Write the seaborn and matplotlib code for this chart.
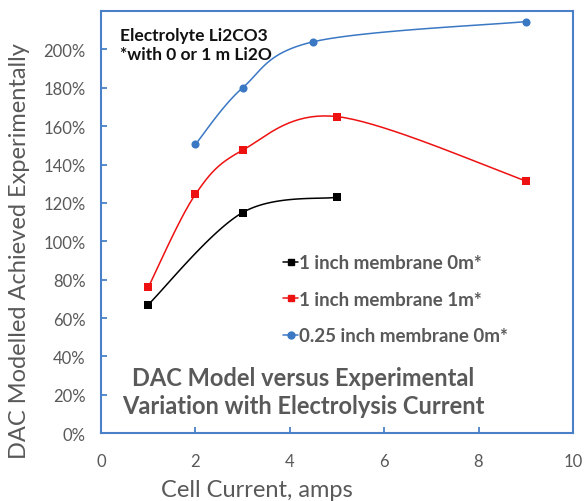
import numpy as np
import pandas as pd
import matplotlib
matplotlib.use("Agg")
import matplotlib.pyplot as plt
import seaborn as sns
from matplotlib.lines import Line2D

# Data
x_black = [1, 3, 5]
y_black = [0.67, 1.15, 1.23]
x_red = [1, 2, 3, 5, 9]
y_red = [0.76, 1.245, 1.475, 1.65, 1.315]
x_blue = [2, 3, 4.5, 9]
y_blue = [1.505, 1.80, 2.04, 2.145]
labels = ["1 inch membrane 0m*", "1 inch membrane 1m*", "0.25 inch membrane 0m*"]
colors = ["#000000", "#ee1111", "#3a78c4"]
markers = ["s", "s", "o"]
ytick_vals = [0.0, 0.2, 0.4, 0.6, 0.8, 1.0, 1.2, 1.4, 1.6, 1.8, 2.0, 2.2]
ytick_labels = ["0%", "20%", "40%", "60%", "80%", "100%", "120%", "140%", "160%", "180%", "200%", ""]
xtick_vals = [0, 2, 4, 6, 8, 10]

def smooth(xs, ys, n=40):
    # Catmull-Rom style Bezier smoothing (like spreadsheet smoothed lines)
    xs = np.asarray(xs, float); ys = np.asarray(ys, float)
    P = np.column_stack([xs, ys])
    out = []
    for i in range(len(P) - 1):
        p0 = P[i - 1] if i > 0 else P[i]
        p1 = P[i]; p2 = P[i + 1]
        p3 = P[i + 2] if i + 2 < len(P) else P[i + 1]
        c1 = p1 + (p2 - p0) / 6.0
        c2 = p2 - (p3 - p1) / 6.0
        t = np.linspace(0, 1, n)[:, None]
        seg = ((1 - t) ** 3) * p1 + 3 * ((1 - t) ** 2) * t * c1 + 3 * (1 - t) * t ** 2 * c2 + t ** 3 * p2
        out.append(seg if i == 0 else seg[1:])
    s = np.vstack(out)
    return s[:, 0], s[:, 1]

sns.set_style("white")
plt.rcParams['font.family'] = ['Lato', 'DejaVu Sans']

fig = plt.figure(figsize=(5.84, 5.02), dpi=100)
ax = fig.add_axes([0.173, 0.135, 0.808, 0.841])

series = [(x_black, y_black), (x_red, y_red), (x_blue, y_blue)]
handles = []
for (xs, ys), lab, col, mk in zip(series, labels, colors, markers):
    sx, sy = smooth(xs, ys)
    df_s = pd.DataFrame({"x": sx, "y": sy})
    sns.lineplot(data=df_s, x="x", y="y", ax=ax, color=col, lw=1.1, sort=False, estimator=None)
    df_p = pd.DataFrame({"x": xs, "y": ys})
    sns.scatterplot(data=df_p, x="x", y="y", ax=ax, color=col, marker=mk, s=30 if mk == "s" else 34,
                    edgecolor=col, linewidth=0, zorder=5)
    handles.append(Line2D([0], [0], color=col, lw=1.1, marker=mk, markersize=5, label=lab))

ax.set_xlim(0, 10)
ax.set_ylim(0, 2.2)
ax.set_xticks(xtick_vals)
ax.set_yticks(ytick_vals)
ax.set_yticklabels(ytick_labels)
grey = "#595959"
ax.tick_params(axis="both", direction="in", length=4, width=1.2, color="#3a78c4",
               labelsize=12, labelcolor=grey, left=True, bottom=True)
ax.tick_params(axis="y", pad=11)
ax.tick_params(axis="x", pad=14)
for sp in ax.spines.values():
    sp.set_color("#4a80c8")
    sp.set_linewidth(1.5)
ax.set_xlabel("Cell Current, amps", fontsize=17, color=grey)
ax.set_ylabel("DAC Modelled Achieved Experimentally", fontsize=17, color=grey)
ax.xaxis.set_label_coords(0.331, -0.108)
ax.yaxis.set_label_coords(-0.150, 0.434)

ax.text(0.04, 0.962, "Electrolyte Li2CO3\n*with 0 or 1 m Li2O", transform=ax.transAxes,
        fontsize=12.5, fontweight="bold", color="#111111", va="top", ha="left", linespacing=1.25)
ax.text(0.428, 0.0995, "DAC Model versus Experimental\nVariation with Electrolysis Current",
        transform=ax.transAxes, fontsize=17, fontweight="bold", color=grey, ha="center",
        va="center", linespacing=1.25)

leg = ax.legend(handles=handles, loc="upper left", bbox_to_anchor=(0.386, 0.424), frameon=False,
                handlelength=0.8, handletextpad=0.05, labelspacing=1.04,
                borderaxespad=0, borderpad=0,
                prop={"weight": "bold", "size": 13.5})
for t in leg.get_texts():
    t.set_color(grey)

fig.savefig("out.png", dpi=100)
